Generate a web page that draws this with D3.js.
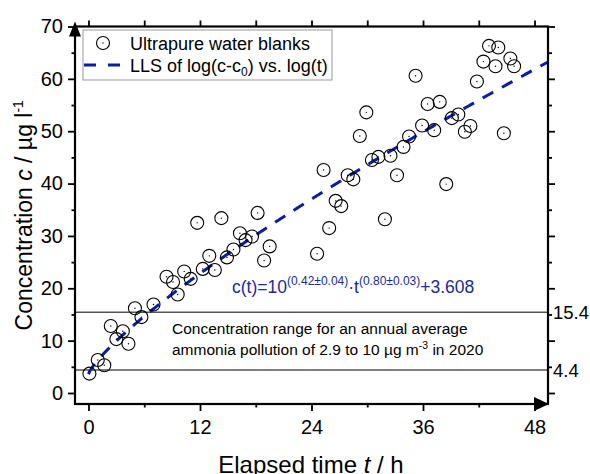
<!DOCTYPE html>
<html lang="en">
<head>
<meta charset="UTF-8">
<script src="https://d3js.org/d3.v7.min.js"></script>
<style>
  body { margin: 0; background: #fff; }
  svg { font-family: "Liberation Sans", Arial, sans-serif; }
  .axis line { stroke: #000; stroke-width: 1.8; }
  .axis path { display: none; }
  .axis text { font-size: 20px; fill: #000; }
</style>
</head>
<body>
<svg class="chart"></svg>
<script>

const width = 590, height = 474;

// elapsed time t / h and concentration c / µg l-1 of the blanks
const times = [0.1, 1.0, 1.7, 2.4, 3.0, 3.7, 4.3, 5.0, 5.7, 7.0,
               8.4, 9.1, 9.6, 10.3, 11.0, 11.7, 12.3, 13.0, 13.6, 14.3,
               14.9, 15.6, 16.3, 16.9, 17.6, 18.2, 18.9, 19.5, 24.6, 25.3,
               25.9, 26.6, 27.2, 27.9, 28.5, 29.2, 29.9, 30.5, 31.2, 31.9,
               32.5, 33.2, 33.9, 34.5, 35.2, 35.9, 36.5, 37.2, 37.8, 38.5,
               39.1, 39.8, 40.5, 41.1, 41.8, 42.5, 43.1, 43.8, 44.1, 44.7,
               45.4, 45.8];
const conc = [3.7, 6.3, 5.3, 12.8, 10.3, 11.8, 9.4, 16.2, 14.5, 16.9,
              22.2, 21.2, 18.8, 23.2, 21.8, 32.5, 23.7, 26.2, 23.5, 33.4,
              25.9, 27.4, 30.5, 29.2, 29.9, 34.4, 25.3, 28.0, 26.6, 42.6,
              31.5, 36.7, 35.7, 41.6, 40.8, 49.1, 53.6, 44.5, 45.1, 33.2,
              45.3, 41.6, 47.0, 49.0, 60.6, 51.1, 55.2, 50.2, 55.6, 39.9,
              52.5, 53.2, 49.9, 51.0, 59.5, 63.3, 66.3, 62.4, 66.0, 49.6,
              63.9, 62.4];

// fit c(t) = 10^a * t^b + c0, as printed on the chart
const fitA = 0.42, fitB = 0.80, fitC0 = 3.608;

// range lines
const rangeLevels = [15.4, 4.4];

const xTicks = [0, 12, 24, 36, 48];
const xMinor = [6, 18, 30, 42];
const yTicks = [0, 10, 20, 30, 40, 50, 60, 70];
const yMinor = [5, 15, 25, 35, 45, 55, 65];

const pLeft = 75, pRight = 548, pTop = 26.5, pBottom = 404;

const x = d3.scaleLinear().domain([-1.45, 49.45]).range([pLeft, pRight]);
const y = d3.scaleLinear().domain([-2.1, 70]).range([pBottom, pTop]);

const svg = d3.select(".chart")
    .attr("width", width)
    .attr("height", height);

// axes (ticks only, frame drawn separately)
svg.append("g").attr("class", "axis")
    .attr("transform", `translate(${pLeft},0)`)
    .call(d3.axisLeft(y).tickValues(yTicks).tickSize(7).tickPadding(5));
svg.append("g").attr("class", "axis")
    .attr("transform", `translate(${pLeft},0)`)
    .call(d3.axisLeft(y).tickValues(yMinor).tickSize(3.5).tickFormat(""));
svg.append("g").attr("class", "axis")
    .attr("transform", `translate(${pRight},0)`)
    .call(d3.axisRight(y).tickValues(yTicks).tickSize(7).tickFormat(""));
svg.append("g").attr("class", "axis")
    .attr("transform", `translate(${pRight},0)`)
    .call(d3.axisRight(y).tickValues(yMinor).tickSize(4).tickFormat(""));

svg.append("g").attr("class", "axis")
    .attr("transform", `translate(0,${pBottom})`)
    .call(d3.axisBottom(x).tickValues(xTicks).tickSize(7).tickPadding(9));
svg.append("g").attr("class", "axis")
    .attr("transform", `translate(0,${pBottom})`)
    .call(d3.axisBottom(x).tickValues(xMinor).tickSize(3.5).tickFormat(""));
svg.append("g").attr("class", "axis")
    .attr("transform", `translate(0,${pTop})`)
    .call(d3.axisTop(x).tickValues(xTicks.concat(xMinor)).tickSize(6).tickFormat(""));

// range lines and labels
svg.selectAll(".range")
  .data(rangeLevels)
  .join("line")
    .attr("class", "range")
    .attr("x1", pLeft).attr("x2", pRight)
    .attr("y1", d => y(d)).attr("y2", d => y(d))
    .style("stroke", "#555")
    .style("stroke-width", 1.5);

svg.selectAll(".rangelabel")
  .data(rangeLevels)
  .join("text")
    .attr("class", "rangelabel")
    .attr("x", pRight + 5)
    .attr("y", d => y(d))
    .attr("dy", "0.36em")
    .style("font-size", "18.5px")
    .text(d => d);

// annotation
const note = svg.append("text")
    .style("font-size", "15.5px");
note.append("tspan").attr("x", 172).attr("y", 334)
    .text("Concentration range for an annual average");
note.append("tspan").attr("x", 172).attr("y", 355)
    .text("ammonia pollution of 2.9 to 10 \u00b5g m");
note.append("tspan").attr("dy", -6).style("font-size", "10.5px").text("-3");
note.append("tspan").attr("dy", 6).text(" in 2020");

// fitted curve
const fitT = d3.range(0, 49.45, 0.1).concat([49.45]);
const line = d3.line()
    .x(t => x(t))
    .y(t => y(Math.pow(10, fitA) * Math.pow(t, fitB) + fitC0));

svg.append("path")
    .datum(fitT)
    .attr("d", line)
    .style("fill", "none")
    .style("stroke", "#0d1d9c")
    .style("stroke-width", 3)
    .style("stroke-dasharray", "12,10");

// data points
const pts = svg.selectAll(".pt")
  .data(times.map((t, i) => ({t: t, c: conc[i]})))
  .join("g")
    .attr("class", "pt")
    .attr("transform", d => `translate(${x(d.t)},${y(d.c)})`);
pts.append("circle")
    .attr("r", 6.5)
    .style("fill", "none")
    .style("stroke", "#000")
    .style("stroke-width", 1.1);
pts.append("circle")
    .attr("r", 0.7)
    .style("fill", "#000");

// equation
const eq = svg.append("text")
    .attr("x", 232).attr("y", 293)
    .style("font-size", "17.5px")
    .style("fill", "#1a2a9c");
eq.append("tspan").text("c(t)=10");
eq.append("tspan").attr("dy", -8).style("font-size", "12px").text("(0.42\u00b10.04)");
eq.append("tspan").attr("dy", 8).text("\u00b7t");
eq.append("tspan").attr("dy", -8).style("font-size", "12px").text("(0.80\u00b10.03)");
eq.append("tspan").attr("dy", 8).text("+3.608");

// frame
svg.append("rect")
    .attr("x", pLeft).attr("y", pTop)
    .attr("width", pRight - pLeft).attr("height", pBottom - pTop)
    .style("fill", "none")
    .style("stroke", "#000")
    .style("stroke-width", 2.2);

// arrows
svg.append("path")
    .attr("d", `M${pLeft},${pTop - 5} L${pLeft - 6},${pTop + 10} L${pLeft + 6},${pTop + 10} Z`)
    .style("fill", "#000");
svg.append("path")
    .attr("d", `M${pRight + 1},${pBottom} L${pRight - 14},${pBottom - 7} L${pRight - 14},${pBottom + 7} Z`)
    .style("fill", "#000");

// legend
const legend = svg.append("g");
legend.append("rect")
    .attr("x", 83).attr("y", 30)
    .attr("width", 249).attr("height", 50)
    .style("fill", "#fff")
    .style("stroke", "#999")
    .style("stroke-width", 1);
legend.append("circle")
    .attr("cx", 103).attr("cy", 43).attr("r", 6.5)
    .style("fill", "none").style("stroke", "#000").style("stroke-width", 1.1);
legend.append("circle")
    .attr("cx", 103).attr("cy", 43).attr("r", 0.7)
    .style("fill", "#000");
legend.append("text")
    .attr("x", 130).attr("y", 49.5)
    .style("font-size", "18px")
    .text("Ultrapure water blanks");
legend.append("line")
    .attr("x1", 84).attr("x2", 122)
    .attr("y1", 65).attr("y2", 65)
    .style("stroke", "#0d1d9c")
    .style("stroke-width", 3)
    .style("stroke-dasharray", "12,12");
const lt = legend.append("text")
    .attr("x", 130).attr("y", 71.5)
    .style("font-size", "18px");
lt.append("tspan").text("LLS of log(c-c");
lt.append("tspan").attr("dy", 4).style("font-size", "12px").text("0");
lt.append("tspan").attr("dy", -4).text(") vs. log(t)");

// axis titles
const xt = svg.append("text")
    .attr("x", 311).attr("y", 473)
    .attr("text-anchor", "middle")
    .style("font-size", "24px");
xt.append("tspan").text("Elapsed time ");
xt.append("tspan").style("font-style", "italic").text("t");
xt.append("tspan").text(" / h");

const yt = svg.append("text")
    .attr("transform", `translate(32,${(pTop + pBottom) / 2}) rotate(-90)`)
    .attr("text-anchor", "middle")
    .style("font-size", "23px");
yt.append("tspan").text("Concentration ");
yt.append("tspan").style("font-style", "italic").text("c");
yt.append("tspan").text(" / \u00b5g l");
yt.append("tspan").attr("dy", -9).style("font-size", "14px").text("-1");

</script>
</body>
</html>
